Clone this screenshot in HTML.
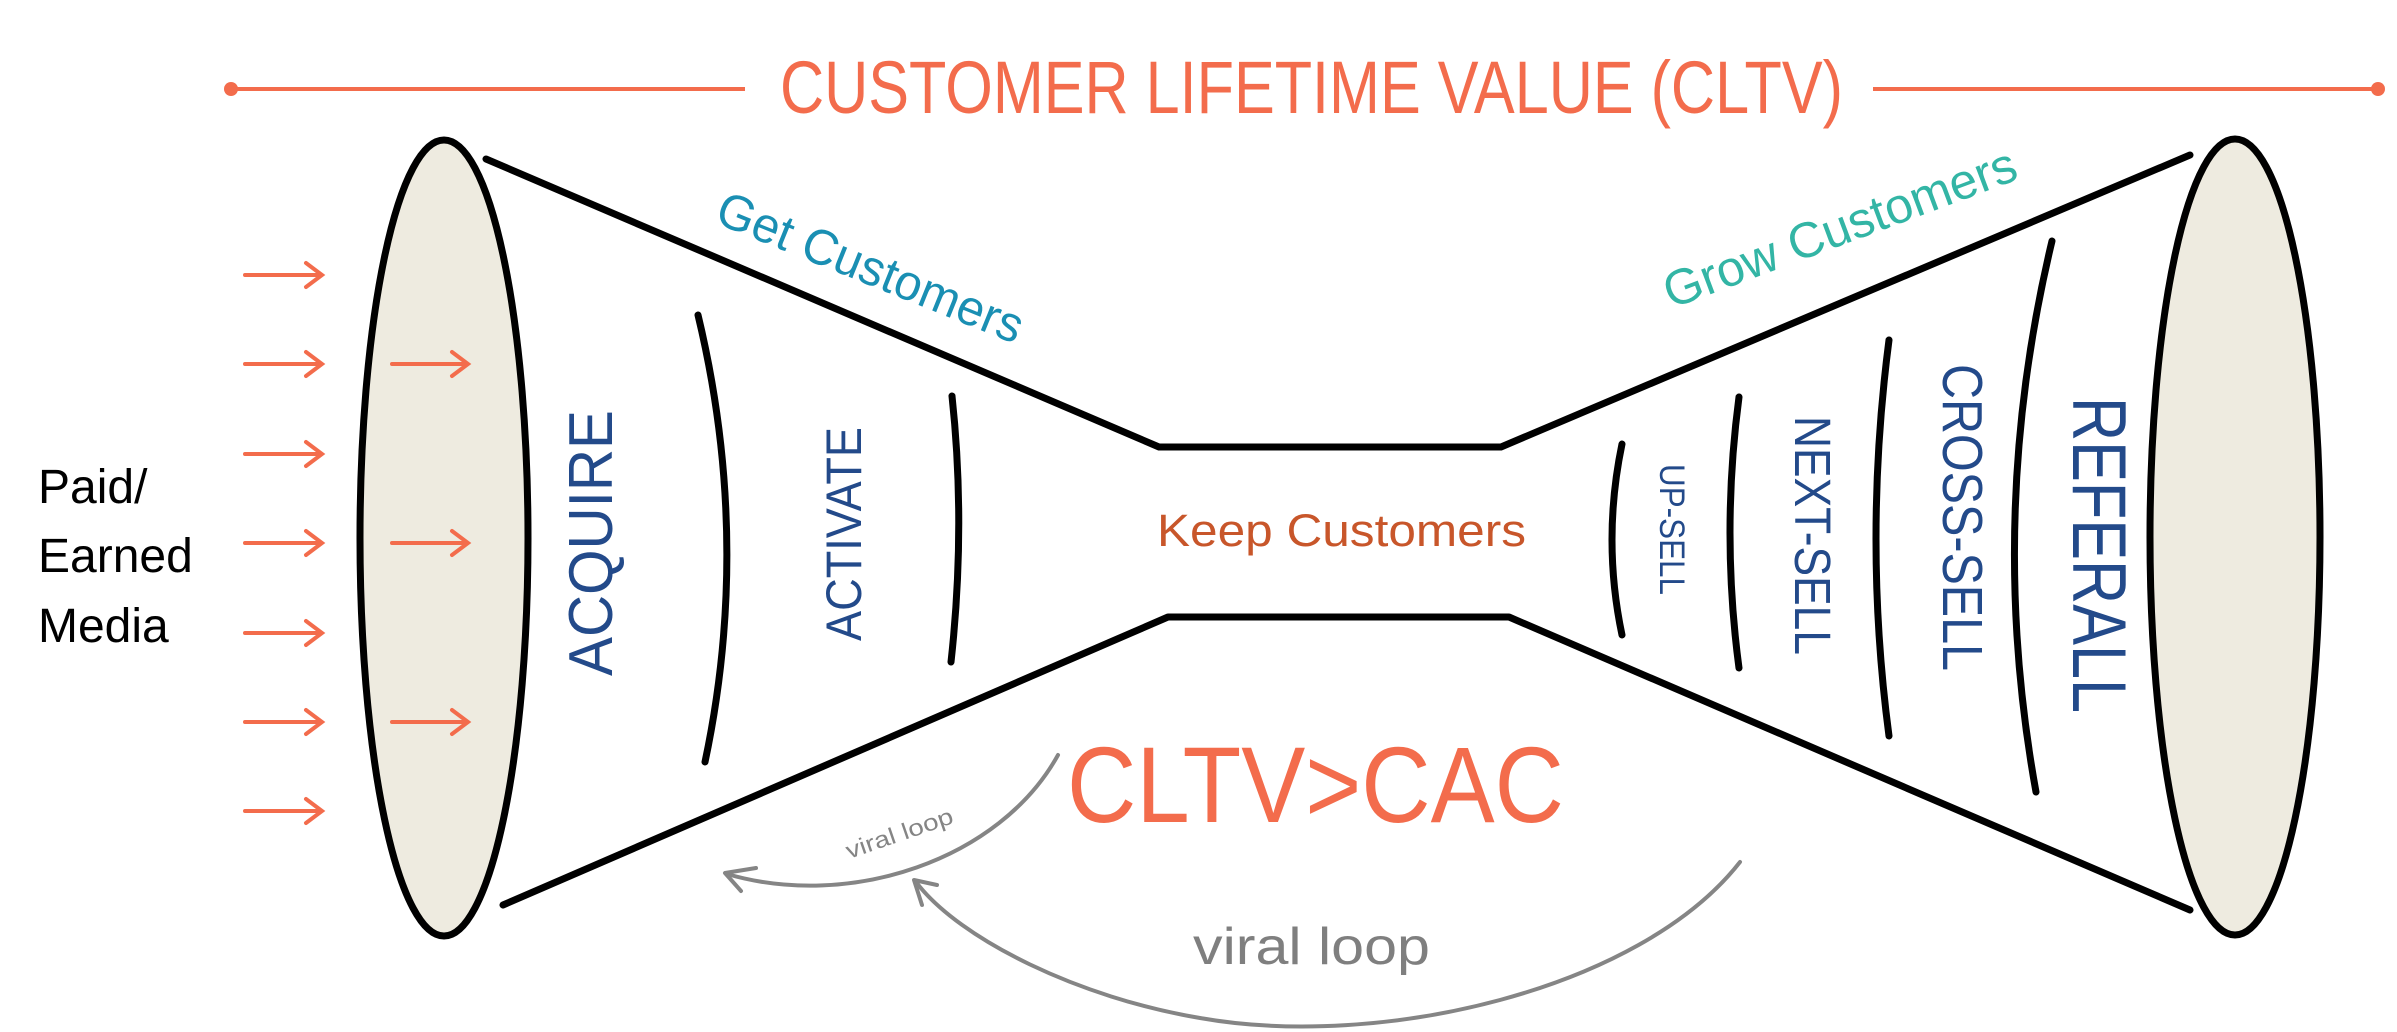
<!DOCTYPE html>
<html><head><meta charset="utf-8"><style>html,body{margin:0;padding:0;background:#fff}svg{display:block}</style></head>
<body>
<svg width="2397" height="1032" viewBox="0 0 2397 1032" xmlns="http://www.w3.org/2000/svg" font-family="Liberation Sans, sans-serif">
<!-- title -->
<line x1="231" y1="89" x2="745" y2="89" stroke="#f36c4c" stroke-width="4"/>
<circle cx="231" cy="89" r="7" fill="#f36c4c"/>
<line x1="1873" y1="89" x2="2378" y2="89" stroke="#f36c4c" stroke-width="4"/>
<circle cx="2378" cy="89" r="7" fill="#f36c4c"/>
<text x="780" y="113" font-size="74" fill="#f36c4c" textLength="1063" lengthAdjust="spacingAndGlyphs">CUSTOMER LIFETIME VALUE (CLTV)</text>

<!-- ellipses -->
<ellipse cx="444" cy="538" rx="84" ry="398" fill="#eeebe0" stroke="#000" stroke-width="7"/>
<ellipse cx="2235" cy="537" rx="85" ry="398" fill="#eeebe0" stroke="#000" stroke-width="7"/>

<!-- funnel -->
<g fill="none" stroke="#000" stroke-width="7" stroke-linecap="round" stroke-linejoin="round">
<polyline points="486,159 1159,447 1501,447 2190,155"/>
<polyline points="503,905 1168,617 1509,617 2190,910"/>
<path d="M698,315 Q752,540 705,762"/>
<path d="M952,396 Q966,526 951,662"/>
<path d="M1622,444 Q1602,540 1622,635"/>
<path d="M1739,397 Q1721,533 1739,668"/>
<path d="M1889,340 Q1863,540 1889,736"/>
<path d="M2052,241 Q1986,516 2036,792"/>
</g>

<!-- arrows -->
<g stroke="#f36c4c" stroke-width="4" fill="none" stroke-linecap="round">
<path d="M245,275 H321 M306,263 L322,275 L306,287"/>
<path d="M245,364 H321 M306,352 L322,364 L306,376"/>
<path d="M245,454 H321 M306,442 L322,454 L306,466"/>
<path d="M245,543 H321 M306,531 L322,543 L306,555"/>
<path d="M245,633 H321 M306,621 L322,633 L306,645"/>
<path d="M245,722 H321 M306,710 L322,722 L306,734"/>
<path d="M245,811 H321 M306,799 L322,811 L306,823"/>
<path d="M392,364 H467 M452,352 L468,364 L452,376"/>
<path d="M392,543 H467 M452,531 L468,543 L452,555"/>
<path d="M392,722 H467 M452,710 L468,722 L452,734"/>
</g>

<!-- text -->
<g font-size="48" fill="#000">
<text x="38" y="503">Paid/</text>
<text x="38" y="572">Earned</text>
<text x="38" y="642">Media</text>
</g>
<g fill="#234a8a">
<text transform="translate(612,676) rotate(-90)" font-size="62" textLength="266" lengthAdjust="spacingAndGlyphs">ACQUIRE</text>
<text transform="translate(861,641) rotate(-90)" font-size="50" textLength="214" lengthAdjust="spacingAndGlyphs">ACTIVATE</text>
<text transform="translate(1660,464) rotate(90)" font-size="35" textLength="131" lengthAdjust="spacingAndGlyphs">UP-SELL</text>
<text transform="translate(1795,416) rotate(90)" font-size="51" textLength="239" lengthAdjust="spacingAndGlyphs">NEXT-SELL</text>
<text transform="translate(1943,364) rotate(90)" font-size="57" textLength="307" lengthAdjust="spacingAndGlyphs">CROSS-SELL</text>
<text transform="translate(2073,397) rotate(90)" font-size="76" textLength="316" lengthAdjust="spacingAndGlyphs">REFERALL</text>
</g>
<text transform="translate(713,222) rotate(22)" font-size="50" fill="#1a8fb3" textLength="326" lengthAdjust="spacingAndGlyphs">Get Customers</text>
<text transform="translate(1671,309) rotate(-20.5)" font-size="50" fill="#33b5a5" textLength="373" lengthAdjust="spacingAndGlyphs">Grow Customers</text>
<text x="1157" y="546" font-size="45" fill="#c8562a" textLength="369" lengthAdjust="spacingAndGlyphs">Keep Customers</text>
<text x="1067" y="822" font-size="108" fill="#f36c4c" textLength="497" lengthAdjust="spacingAndGlyphs">CLTV&gt;CAC</text>

<!-- viral loops -->
<g fill="none" stroke="#858585" stroke-width="4" stroke-linecap="round" stroke-linejoin="round">
<path d="M1058,755 C1000,860 850,910 727,874"/>
<path d="M741,891 L725,873 L756,868"/>
<path d="M1740,862 C1640,990 1380,1050 1200,1018 C1080,998 960,940 916,882"/>
<path d="M922,905 L914,880 L937,885"/>
</g>
<text transform="translate(849,859) rotate(-19)" font-size="23" fill="#858585" textLength="112" lengthAdjust="spacingAndGlyphs">viral loop</text>
<text x="1193" y="964" font-size="52" fill="#7f7f7f" textLength="237" lengthAdjust="spacingAndGlyphs">viral loop</text>
</svg>
</body></html>
